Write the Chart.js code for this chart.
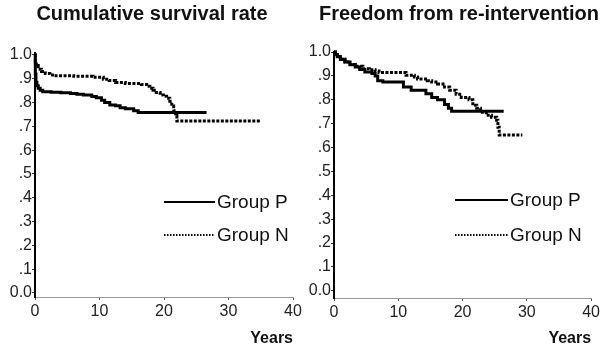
<!DOCTYPE html>
<html>
<head>
<meta charset="utf-8">
<script src="https://cdn.jsdelivr.net/npm/chart.js@4/dist/chart.umd.min.js"></script>
<style>
  html, body { margin: 0; padding: 0; background: #fff; }
  #wrap { position: relative; width: 602px; height: 348px; overflow: hidden; }
  canvas { position: absolute; top: 0; }
  #survival { left: 0; }
  #reint { left: 300px; }
</style>
</head>
<body>
<div id="wrap">
  <canvas id="survival" width="305" height="348"></canvas>
  <canvas id="reint" width="302" height="348"></canvas>
</div>
<script>
/* Kaplan-Meier curves, group P vs group N */

// shared axes
const yTicks      = [0, 0.1, 0.2, 0.3, 0.4, 0.5, 0.6, 0.7, 0.8, 0.9, 1.0];
const yTickLabels = ['0.0', '.1', '.2', '.3', '.4', '.5', '.6', '.7', '.8', '.9', '1.0'];
const xTicks      = [0, 10, 20, 30, 40];
const groupLabels = ['Group P', 'Group N'];

// cumulative survival rate (years, survival)
const survPYears = [0, 0.05, 0.15, 0.3, 0.5, 0.8, 1.2, 2.5, 4.0, 5.5, 6.5, 7.5, 8.8, 9.5, 10.3, 10.8, 11.6, 12.5, 13.2, 14.0, 15.3, 16.0, 26.6];
const survP      = [1.0, 0.92, 0.885, 0.87, 0.86, 0.852, 0.845, 0.843, 0.841, 0.838, 0.835, 0.832, 0.825, 0.82, 0.81, 0.80, 0.79, 0.786, 0.778, 0.774, 0.765, 0.758, 0.758];
const survNYears = [0, 0.05, 0.2, 0.5, 1.0, 1.6, 2.3, 3.0, 6.0, 9.0, 10.6, 11.5, 12.5, 14.0, 16.5, 17.3, 17.8, 18.3, 18.8, 19.4, 19.9, 20.4, 20.9, 21.2, 21.5, 21.8, 22.0, 35.0];
const survN      = [1.0, 0.97, 0.955, 0.94, 0.93, 0.922, 0.916, 0.912, 0.91, 0.906, 0.898, 0.892, 0.884, 0.88, 0.876, 0.868, 0.86, 0.852, 0.842, 0.832, 0.826, 0.818, 0.805, 0.785, 0.765, 0.745, 0.722, 0.722];

// freedom from re-intervention (years, proportion)
const reintPYears = [0, 0.2, 0.5, 1.0, 1.7, 2.5, 3.3, 4.0, 4.8, 5.9, 6.4, 6.8, 7.6, 10.8, 12.0, 14.3, 15.2, 16.1, 17.2, 17.8, 18.3, 26.4];
const reintP      = [1.0, 0.99, 0.98, 0.97, 0.958, 0.947, 0.937, 0.927, 0.916, 0.91, 0.90, 0.88, 0.874, 0.853, 0.84, 0.825, 0.81, 0.80, 0.78, 0.765, 0.752, 0.752];
const reintNYears = [0, 0.2, 0.5, 1.0, 1.7, 2.5, 3.3, 4.5, 5.5, 6.4, 7.0, 11.2, 12.5, 13.0, 14.5, 15.2, 16.1, 17.2, 18.0, 19.0, 19.8, 21.0, 21.6, 22.2, 22.8, 23.7, 24.5, 25.3, 25.5, 25.7, 29.3];
const reintN      = [1.0, 0.99, 0.98, 0.97, 0.958, 0.948, 0.94, 0.93, 0.926, 0.92, 0.914, 0.903, 0.895, 0.887, 0.88, 0.874, 0.866, 0.853, 0.84, 0.823, 0.81, 0.80, 0.777, 0.765, 0.748, 0.735, 0.727, 0.714, 0.685, 0.652, 0.652];

const FONT = 'Liberation Sans, Arial, sans-serif';
const pts = (xs, ys) => xs.map((x, i) => ({ x, y: ys[i] }));

// panel heading, centred on a fixed x
const panelTitle = {
  id: 'panelTitle',
  afterDraw(chart, args, opts) {
    const { ctx } = chart;
    ctx.save();
    ctx.font = opts.font;
    ctx.fillStyle = opts.color;
    ctx.textAlign = 'center';
    ctx.textBaseline = 'middle';
    ctx.fillText(opts.text, opts.x, opts.y);
    ctx.restore();
  },
};

// legend drawn inside the plot, line sample + label
const groupLegend = {
  id: 'groupLegend',
  afterDatasetsDraw(chart, args, opts) {
    const { ctx } = chart;
    ctx.save();
    chart.data.datasets.forEach((ds, i) => {
      const y = opts.y + i * opts.gap;
      ctx.beginPath();
      ctx.setLineDash(ds.legendDash);
      ctx.lineWidth = opts.lineWidth;
      ctx.strokeStyle = ds.borderColor;
      ctx.moveTo(opts.x, y);
      ctx.lineTo(opts.x + opts.length, y);
      ctx.stroke();
      ctx.setLineDash([]);
      ctx.fillStyle = opts.color;
      ctx.font = opts.font;
      ctx.textBaseline = 'middle';
      ctx.fillText(ds.label, opts.x + opts.length + 2, y + 1);
    });
    ctx.restore();
  },
};

function kmChart(id, cfg) {
  return new Chart(document.getElementById(id), {
    type: 'line',
    data: {
      datasets: [
        { label: groupLabels[0], data: pts(cfg.pX, cfg.pY), borderColor: '#000', borderWidth: 3,
          stepped: 'before', pointRadius: 0, fill: false, legendDash: [] },
        { label: groupLabels[1], data: pts(cfg.nX, cfg.nY), borderColor: '#000', borderWidth: 3,
          borderDash: [3, 1.5], stepped: 'before', pointRadius: 0, fill: false, legendDash: [1.5, 1.5] },
      ],
    },
    options: {
      responsive: false, animation: false, clip: false,
      layout: { padding: { left: 0, right: cfg.padRight, top: cfg.padTop, bottom: 0 } },
      plugins: {
        legend: { display: false },
        tooltip: { enabled: false },
        title: { display: false },
        panelTitle: { text: cfg.title, x: cfg.titleX, y: 14, color: '#111', font: `bold 20px ${FONT}` },
        groupLegend: { x: cfg.legX, y: cfg.legY, gap: cfg.legGap, length: cfg.legLen, lineWidth: 2,
                       color: '#111', font: `19px ${FONT}` },
      },
      scales: {
        x: {
          type: 'linear', min: 0, max: 40,
          afterFit: s => { s.height = cfg.xHeight; },
          afterBuildTicks: s => { s.ticks = xTicks.map(value => ({ value })); },
          border: { color: '#999', width: 1 },
          grid: { drawOnChartArea: false, drawTicks: true, tickLength: 3, color: '#555' },
          ticks: { color: '#222', padding: 2, maxRotation: 0, font: { family: FONT, size: 16 } },
          title: { display: true, text: 'Years', align: 'end', color: '#111', padding: { top: 0, bottom: 0 },
                   font: { family: FONT, size: 16, weight: 'bold' } },
        },
        y: {
          min: cfg.yMin, max: cfg.yMax,
          afterFit: s => { s.width = cfg.yWidth; },
          afterBuildTicks: s => { s.ticks = yTicks.map(value => ({ value })); },
          border: { color: '#000', width: 2 },
          grid: { drawOnChartArea: false, drawTicks: true, tickLength: 3, color: '#333' },
          ticks: { color: '#222', padding: 0, font: { family: FONT, size: 16 },
                   callback: v => yTickLabels[yTicks.findIndex(t => Math.abs(t - v) < 1e-6)] },
        },
      },
    },
    plugins: [panelTitle, groupLegend],
  });
}

kmChart('survival', {
  title: 'Cumulative survival rate', titleX: 152,
  pX: survPYears, pY: survP, nX: survNYears, nY: survN,
  padTop: 53, padRight: 12, yWidth: 35, xHeight: 51,
  yMin: -0.017, yMax: 1.008,
  legX: 164, legY: 202, legGap: 33, legLen: 51,
});

kmChart('reint', {
  title: 'Freedom from re-intervention', titleX: 159,
  pX: reintPYears, pY: reintP, nX: reintNYears, nY: reintN,
  padTop: 52, padRight: 10, yWidth: 34, xHeight: 50,
  yMin: -0.03, yMax: 1.0,
  legX: 155, legY: 200, legGap: 35, legLen: 53,
});
</script>
</body>
</html>
